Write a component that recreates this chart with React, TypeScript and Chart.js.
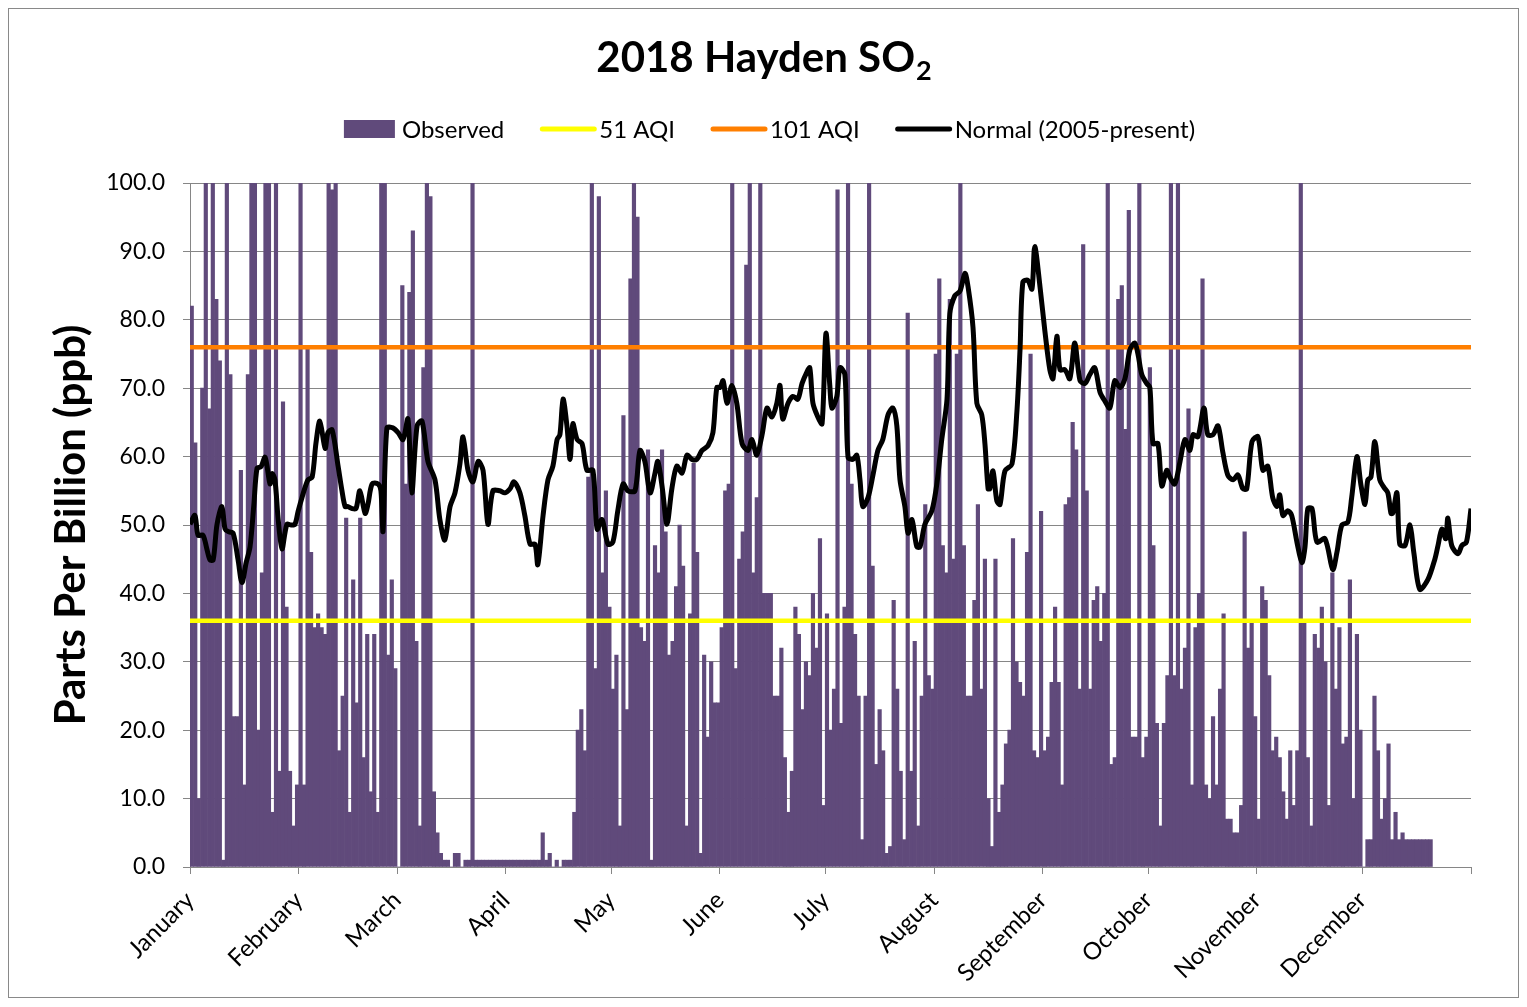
import React, { useEffect, useRef } from 'react';
import { Chart, registerables } from 'chart.js';

Chart.register(...registerables);

const FONT = 'Lato, "Open Sans", "DejaVu Sans", sans-serif';

const chartTitle = '2018 Hayden SO';
const chartTitleSub = '2';
const yAxisTitle = 'Parts Per Billion (ppb)';

const monthNames = ['January', 'February', 'March', 'April', 'May', 'June', 'July', 'August', 'September', 'October', 'November', 'December'];
const monthStartDays = [0, 31, 59, 90, 120, 151, 181, 212, 243, 273, 304, 334, 365];

// Observed daily SO2 (ppb), one value per day
const janObserved = [82, 62, 10, 70, 100, 67, 100, 83, 74, 1, 100, 72, 22, 22, 58, 12, 72, 100, 100, 20, 43, 100, 100, 8, 100, 14, 68, 38, 14, 6, 12];
const febObserved = [100, 12, 76, 46, 35, 37, 35, 34, 100, 99, 100, 17, 25, 51, 8, 42, 24, 51, 16, 34, 11, 34, 8, 100, 100, 31, 42, 29];
const marObserved = [0, 85, 56, 84, 93, 33, 6, 73, 100, 98, 11, 5, 2, 1, 1, 0, 2, 2, 0, 1, 1, 100, 1, 1, 1, 1, 1, 1, 1, 1, 1];
const aprObserved = [1, 1, 1, 1, 1, 1, 1, 1, 1, 1, 5, 1, 2, 0, 1, 0, 1, 1, 1, 8, 20, 23, 17, 57, 100, 29, 98, 43, 55, 38];
const mayObserved = [26, 31, 6, 66, 23, 86, 100, 95, 35, 33, 61, 1, 47, 43, 61, 49, 31, 33, 41, 50, 44, 6, 37, 59, 46, 2, 31, 19, 30, 24, 24];
const junObserved = [35, 55, 56, 100, 29, 45, 49, 88, 100, 43, 54, 100, 40, 40, 40, 25, 25, 32, 16, 8, 14, 38, 34, 23, 30, 28, 40, 32, 48, 9];
const julObserved = [37, 20, 26, 99, 21, 38, 100, 56, 34, 25, 4, 25, 100, 44, 15, 23, 17, 2, 3, 39, 26, 14, 4, 81, 14, 33, 6, 25, 53, 28, 26];
const augObserved = [75, 86, 47, 43, 83, 45, 75, 100, 47, 25, 25, 39, 53, 26, 45, 10, 3, 45, 8, 12, 18, 20, 48, 30, 27, 25, 46, 75, 17, 16, 52];
const sepObserved = [17, 19, 27, 38, 27, 12, 53, 54, 65, 61, 26, 91, 55, 26, 39, 41, 33, 40, 100, 15, 16, 83, 85, 64, 96, 19, 19, 100, 16, 19];
const octObserved = [73, 47, 21, 6, 21, 28, 100, 28, 100, 26, 32, 67, 12, 35, 40, 86, 12, 10, 22, 12, 26, 37, 7, 7, 5, 5, 9, 49, 32, 36, 22];
const novObserved = [7, 41, 39, 28, 17, 19, 16, 11, 7, 17, 9, 17, 100, 36, 16, 6, 34, 32, 38, 30, 9, 43, 26, 35, 18, 19, 42, 10, 34, 20];
const decObserved = [0, 4, 4, 25, 17, 7, 10, 18, 4, 8, 4, 5, 4, 4, 4, 4, 4, 4, 4, 4, null, null, null, null, null, null, null, null, null, null, null];

const observed = [
  ...janObserved, ...febObserved, ...marObserved, ...aprObserved, ...mayObserved, ...junObserved,
  ...julObserved, ...augObserved, ...sepObserved, ...octObserved, ...novObserved, ...decObserved,
];

// Normal (2005-present): day of year and value
const normalDays = [
  0.0, 1.4, 2.3, 3.7, 4.8, 5.7, 6.6, 7.7, 9.1, 10.0, 11.1, 12.3, 13.7, 14.8, 16.0, 17.1, 18.2, 19.1, 20.2, 21.4,
  22.8, 23.4, 24.2, 25.1, 26.2, 27.6, 28.8, 29.9, 30.8, 31.9, 33.6, 34.8, 35.9, 37.0, 38.5, 39.3, 40.5, 42.2, 43.3, 44.2,
  45.0, 46.2, 47.3, 48.4, 49.9, 50.7, 51.9, 53.6, 54.4, 55.0, 56.1, 57.8, 59.3, 60.7, 62.1, 63.2, 64.7, 66.1, 67.8, 69.8,
  71.2, 72.6, 74.1, 75.5, 76.9, 77.8, 79.2, 80.6, 82.1, 83.5, 84.9, 86.3, 88.3, 89.7, 91.2, 92.3, 94.0, 95.4, 96.9, 98.3,
  99.1, 100.6, 102.0, 103.4, 104.6, 105.4, 106.3, 107.4, 108.3, 109.1, 110.3, 111.7, 113.1, 114.8, 116.0, 117.4, 119.1, 120.5, 121.9, 123.4,
  124.8, 126.8, 128.2, 129.6, 131.1, 132.5, 133.3, 134.6, 135.9, 137.3, 138.7, 140.2, 141.6, 143.0, 144.4, 145.9, 147.6, 149.0, 150.1, 151.0,
  151.9, 153.0, 154.4, 155.8, 157.3, 159.0, 160.1, 161.5, 163.0, 164.4, 165.8, 167.2, 168.1, 168.9, 170.4, 171.8, 173.2, 174.4, 175.8, 176.6,
  177.5, 178.9, 180.1, 181.2, 182.3, 182.9, 184.3, 185.2, 186.6, 187.5, 188.9, 190.0, 190.9, 191.7, 193.2, 194.6, 196.0, 197.4, 198.9, 200.3,
  201.4, 202.3, 203.7, 204.6, 205.7, 207.1, 208.0, 209.4, 211.4, 212.8, 214.2, 215.7, 216.5, 217.9, 219.4, 220.8, 221.7, 223.1, 224.2, 225.6,
  226.5, 227.4, 227.9, 228.8, 229.9, 230.8, 232.2, 234.2, 235.6, 236.5, 237.3, 238.7, 239.9, 240.7, 242.2, 243.6, 245.0, 245.9, 247.0, 247.9,
  249.3, 250.7, 252.1, 253.6, 255.0, 256.4, 257.8, 259.3, 260.7, 262.1, 263.5, 265.0, 266.4, 267.8, 269.2, 270.1, 271.2, 272.6, 273.5, 274.4,
  275.8, 276.9, 278.3, 279.2, 280.6, 282.1, 283.5, 284.9, 285.8, 287.2, 288.9, 290.0, 291.5, 292.9, 294.3, 295.7, 297.2, 298.6, 300.0, 301.1,
  302.6, 304.3, 305.7, 307.1, 308.5, 309.7, 310.5, 311.4, 312.8, 313.9, 315.4, 316.8, 317.7, 318.5, 319.7, 321.1, 323.4, 325.6, 326.8, 328.2,
  329.9, 331.0, 332.5, 333.6, 334.8, 335.6, 336.5, 337.6, 339.0, 340.2, 341.3, 342.2, 342.7, 343.9, 344.7, 346.2, 347.6, 348.7, 350.4, 352.7,
  354.7, 355.6, 356.7, 357.8, 358.4, 359.5, 361.3, 362.4, 363.7, 365.0,
];
const normalValues = [
  50.1, 51.4, 48.5, 48.5, 46.5, 44.9, 44.9, 50.1, 52.7, 49.4, 49.0, 48.8, 44.9, 41.6, 44.5, 46.8, 53.0, 58.3, 58.5, 59.9,
  56.0, 57.5, 56.6, 51.0, 46.5, 50.1, 50.0, 50.1, 52.0, 54.0, 56.6, 57.0, 62.0, 65.2, 61.2, 63.5, 63.9, 58.6, 55.0, 52.7,
  52.7, 52.4, 52.4, 55.0, 51.7, 53.0, 56.0, 56.0, 55.0, 49.1, 64.2, 64.2, 63.5, 62.5, 65.5, 54.7, 64.5, 65.2, 59.3, 56.6,
  50.8, 47.8, 52.7, 54.7, 58.9, 62.9, 58.0, 56.3, 59.3, 58.0, 50.1, 55.0, 55.0, 54.7, 55.3, 56.3, 54.7, 51.4, 47.2, 47.2,
  44.2, 51.4, 56.6, 58.6, 62.5, 63.2, 68.4, 64.5, 59.6, 64.8, 62.5, 61.9, 58.0, 58.0, 49.4, 50.8, 47.2, 47.5, 52.1, 56.0,
  55.0, 55.0, 60.9, 59.3, 54.7, 57.6, 59.3, 55.3, 50.1, 55.3, 58.6, 57.6, 60.2, 59.6, 59.6, 60.9, 61.6, 63.5, 70.1, 70.1,
  71.1, 67.8, 70.4, 67.8, 61.9, 60.9, 62.5, 60.2, 63.2, 67.1, 65.8, 67.8, 70.4, 65.5, 67.8, 68.8, 68.4, 70.7, 72.4, 73.0,
  67.8, 65.8, 64.8, 78.0, 70.4, 67.1, 68.8, 73.0, 72.0, 59.9, 59.6, 60.2, 56.6, 52.7, 54.0, 57.3, 60.9, 62.5, 66.1, 67.1,
  64.5, 56.6, 52.7, 48.8, 50.8, 46.8, 46.8, 50.1, 52.1, 56.0, 62.5, 68.4, 80.9, 83.5, 84.2, 86.8, 84.8, 78.9, 67.8, 66.1,
  61.9, 55.3, 55.3, 57.9, 53.5, 53.0, 57.9, 58.9, 66.5, 75.6, 85.5, 85.8, 84.5, 90.7, 84.8, 78.3, 72.7, 71.4, 77.6, 72.7,
  72.7, 71.4, 76.6, 71.1, 70.7, 72.0, 73.0, 69.4, 68.1, 67.1, 71.1, 70.1, 71.4, 75.6, 76.6, 75.0, 72.0, 70.7, 70.1, 61.9,
  61.9, 55.7, 58.0, 57.0, 56.0, 59.3, 62.5, 60.9, 63.2, 62.9, 67.1, 63.2, 63.2, 64.5, 60.6, 57.3, 56.6, 57.3, 55.3, 55.3,
  62.2, 62.9, 58.0, 58.6, 54.0, 52.7, 54.4, 51.4, 52.1, 51.4, 47.5, 44.5, 46.8, 52.4, 52.4, 47.5, 48.0, 43.5, 46.0, 50.0,
  50.4, 54.0, 60.0, 56.0, 53.0, 56.6, 57.0, 62.2, 56.6, 55.5, 54.7, 51.7, 51.7, 54.7, 47.2, 47.0, 50.0, 46.0, 40.6, 42.0,
  45.0, 47.0, 49.4, 48.0, 51.0, 47.0, 45.8, 47.0, 47.5, 52.4,
];

const aqi51Level = 36;
const aqi101Level = 76;
const yearStart = 0;
const yearEnd = 365;

const COLORS = {
  observed: '#604A7B',
  aqi51: '#FFFF00',
  aqi101: '#FF7F00',
  normal: '#000000',
  grid: '#868686',
  text: '#000000',
};

const W = 1509;
const H = 988;

const legendItems = [
  { label: 'Observed', kind: 'box', color: COLORS.observed },
  { label: '51 AQI', kind: 'line', color: COLORS.aqi51 },
  { label: '101 AQI', kind: 'line', color: COLORS.aqi101 },
  { label: 'Normal (2005-present)', kind: 'line', color: COLORS.normal },
];

const headerPlugin = {
  id: 'header',
  afterDraw(chart: any) {
    const ctx = chart.ctx as CanvasRenderingContext2D;
    ctx.save();
    // Title with subscript
    ctx.fillStyle = COLORS.text;
    ctx.textBaseline = 'alphabetic';
    ctx.textAlign = 'left';
    ctx.font = `bold 42px ${FONT}`;
    const w1 = ctx.measureText(chartTitle).width;
    ctx.font = `bold 27px ${FONT}`;
    const w2 = ctx.measureText(chartTitleSub).width;
    const tx = chart.width / 2 - (w1 + w2) / 2;
    ctx.font = `bold 42px ${FONT}`;
    ctx.fillText(chartTitle, tx, 63);
    ctx.font = `bold 27px ${FONT}`;
    ctx.fillText(chartTitleSub, tx + w1 + 1, 71);

    // Legend
    ctx.font = `24px ${FONT}`;
    const sampleW = 53;
    const gap = 5;
    const spacing = 37;
    const widths = legendItems.map((it) => sampleW + gap + ctx.measureText(it.label).width);
    const total = widths.reduce((a, b) => a + b, 0) + spacing * (legendItems.length - 1);
    let x = chart.width / 2 + 6 - total / 2;
    const cy = 120;
    ctx.textBaseline = 'middle';
    legendItems.forEach((it, i) => {
      if (it.kind === 'box') {
        ctx.fillStyle = it.color;
        ctx.fillRect(x, cy - 9, sampleW - 2, 18);
      } else {
        ctx.strokeStyle = it.color;
        ctx.lineWidth = 5;
        ctx.lineCap = 'round';
        ctx.beginPath();
        ctx.moveTo(x + 1, cy);
        ctx.lineTo(x + sampleW, cy);
        ctx.stroke();
      }
      ctx.fillStyle = COLORS.text;
      ctx.fillText(it.label, x + sampleW + gap, cy + 1);
      x += widths[i] + spacing;
    });
    ctx.restore();
  },
};

export default function App() {
  const canvasRef = useRef<HTMLCanvasElement | null>(null);

  useEffect(() => {
    const canvas = canvasRef.current;
    if (!canvas) return;
    const barData = observed.map((v, i) => ({ x: i + 0.5, y: v }));
    const normalData = normalDays.map((d, i) => ({ x: d, y: normalValues[i] }));

    const chart = new Chart(canvas, {
      type: 'bar',
      data: {
        datasets: [
          {
            type: 'line',
            label: 'Normal (2005-present)',
            data: normalData,
            borderColor: COLORS.normal,
            borderWidth: 5,
            pointRadius: 0,
            tension: 0.3,
            borderJoinStyle: 'round',
            order: 0,
          } as any,
          {
            type: 'line',
            label: '101 AQI',
            data: [{ x: yearStart, y: aqi101Level }, { x: yearEnd, y: aqi101Level }],
            borderColor: COLORS.aqi101,
            borderWidth: 4.5,
            pointRadius: 0,
            order: 1,
          } as any,
          {
            type: 'line',
            label: '51 AQI',
            data: [{ x: yearStart, y: aqi51Level }, { x: yearEnd, y: aqi51Level }],
            borderColor: COLORS.aqi51,
            borderWidth: 4.5,
            pointRadius: 0,
            order: 2,
          } as any,
          {
            type: 'bar',
            label: 'Observed',
            data: barData,
            backgroundColor: COLORS.observed,
            borderWidth: 0,
            barPercentage: 1,
            categoryPercentage: 1,
            order: 3,
          } as any,
        ],
      },
      options: {
        responsive: false,
        animation: false,
        devicePixelRatio: 1,
        events: [],
        layout: { padding: { left: 0, top: 174, right: 47, bottom: 0 } },
        plugins: {
          legend: { display: false },
          title: { display: false },
          tooltip: { enabled: false },
        },
        scales: {
          x: {
            type: 'linear',
            min: yearStart,
            max: yearEnd,
            offset: false,
            grid: {
              display: true,
              drawOnChartArea: false,
              drawTicks: true,
              tickLength: 7,
              color: COLORS.grid,
              offset: false,
            },
            border: { display: true, color: COLORS.grid, width: 1 },
            afterBuildTicks: (scale: any) => {
              scale.ticks = monthStartDays.map((d) => ({ value: d }));
            },
            afterFit: (scale: any) => {
              scale.height = 130;
            },
            ticks: {
              autoSkip: false,
              minRotation: 45,
              maxRotation: 45,
              padding: 12,
              color: COLORS.text,
              font: { family: FONT, size: 24 },
              callback: (value: any) => {
                const idx = monthStartDays.indexOf(Number(value));
                return idx >= 0 && idx < monthNames.length ? monthNames[idx] : '';
              },
            },
          },
          y: {
            min: 0,
            max: 100,
            grid: {
              color: COLORS.grid,
              lineWidth: 1,
              drawTicks: true,
              tickLength: 7,
            },
            border: { display: true, color: COLORS.grid, width: 1 },
            afterFit: (scale: any) => {
              scale.width = 181;
            },
            ticks: {
              stepSize: 10,
              padding: 18,
              color: COLORS.text,
              font: { family: FONT, size: 23 },
              callback: (v: any) => Number(v).toFixed(1),
            },
            title: {
              display: true,
              text: yAxisTitle,
              color: COLORS.text,
              font: { family: FONT, size: 42, weight: 'bold' },
              padding: { top: 37, bottom: 0 },
            },
          },
        },
      },
      plugins: [headerPlugin],
    } as any);

    return () => chart.destroy();
  }, []);

  return (
    <div
      style={{
        width: 1511,
        height: 990,
        boxSizing: 'border-box',
        border: '1px solid #898989',
        background: '#fff',
      }}
    >
      <canvas ref={canvasRef} width={W} height={H} style={{ display: 'block', width: W, height: H }} />
    </div>
  );
}
